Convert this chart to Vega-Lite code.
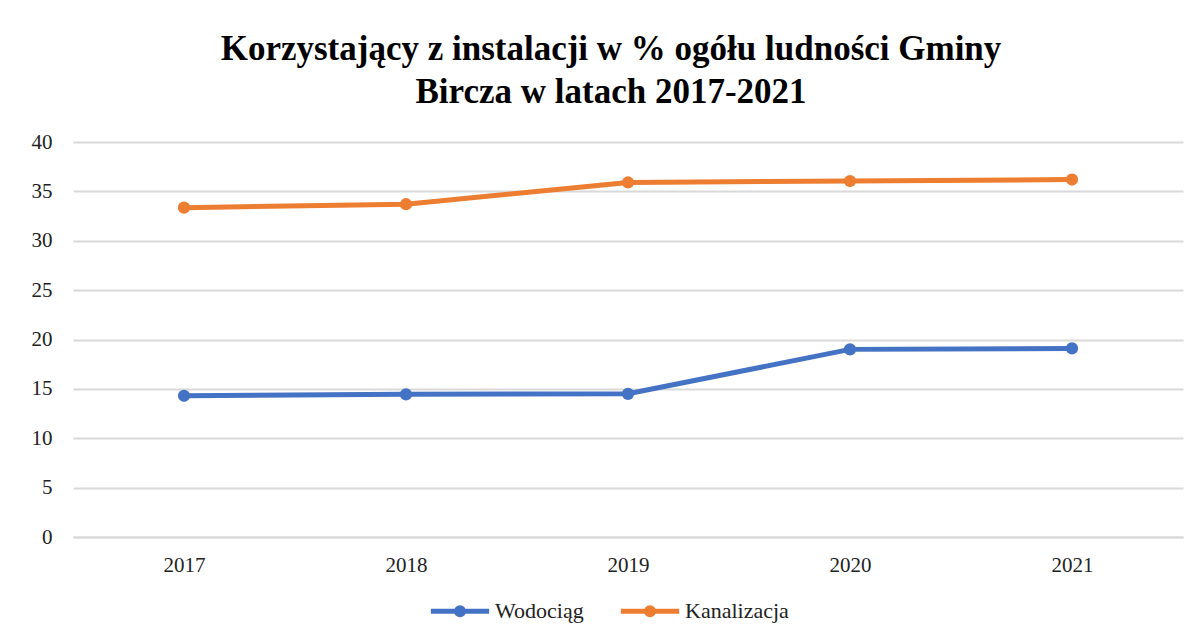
{
  "$schema": "https://vega.github.io/schema/vega-lite/v6.json",
  "width": 1110,
  "height": 395,
  "autosize": {"type": "none"},
  "padding": {"left": 73, "top": 142, "right": 19, "bottom": 104},
  "background": "white",
  "title": {
    "text": ["Korzystający z instalacji w % ogółu ludności Gminy", "Bircza w latach 2017-2021"],
    "font": "Liberation Serif",
    "fontSize": 35,
    "fontWeight": "bold",
    "color": "#000000",
    "anchor": "middle",
    "frame": "group",
    "dx": -17,
    "offset": 21,
    "lineHeight": 43
  },
  "data": {
    "values": [
      {"year": "2017", "series": "Wodociąg", "value": 14.3},
      {"year": "2018", "series": "Wodociąg", "value": 14.45},
      {"year": "2019", "series": "Wodociąg", "value": 14.5},
      {"year": "2020", "series": "Wodociąg", "value": 19.0},
      {"year": "2021", "series": "Wodociąg", "value": 19.1},
      {"year": "2017", "series": "Kanalizacja", "value": 33.35},
      {"year": "2018", "series": "Kanalizacja", "value": 33.7},
      {"year": "2019", "series": "Kanalizacja", "value": 35.9},
      {"year": "2020", "series": "Kanalizacja", "value": 36.05},
      {"year": "2021", "series": "Kanalizacja", "value": 36.2}
    ]
  },
  "mark": {"type": "line", "strokeWidth": 5, "point": {"filled": true, "size": 150}},
  "encoding": {
    "x": {
      "field": "year",
      "type": "ordinal",
      "scale": {"type": "point", "padding": 0.5},
      "axis": {
        "title": null,
        "labelAngle": 0,
        "labelFont": "Liberation Serif",
        "labelFontSize": 21,
        "labelColor": "#222222",
        "labelPadding": 17,
        "ticks": false,
        "domain": true,
        "domainColor": "#d9d9d9",
        "domainWidth": 2,
        "grid": false
      }
    },
    "y": {
      "field": "value",
      "type": "quantitative",
      "scale": {"domain": [0, 40], "nice": false},
      "axis": {
        "title": null,
        "values": [0, 5, 10, 15, 20, 25, 30, 35, 40],
        "labelFont": "Liberation Serif",
        "labelFontSize": 21,
        "labelColor": "#222222",
        "labelPadding": 21,
        "ticks": false,
        "domain": false,
        "grid": true,
        "gridColor": "#d9d9d9",
        "gridWidth": 2
      }
    },
    "color": {
      "field": "series",
      "type": "nominal",
      "scale": {"domain": ["Wodociąg", "Kanalizacja"], "range": ["#4472C4", "#ED7D31"]},
      "legend": {
        "title": null,
        "orient": "none",
        "legendX": 355,
        "legendY": 437,
        "direction": "horizontal",
        "labelFont": "Liberation Serif",
        "labelFontSize": 22,
        "labelColor": "#222222",
        "symbolType": "M-1,0H1M-0.12,0A0.12,0.12 0 1,0 0.12,0A0.12,0.12 0 1,0 -0.12,0",
        "symbolSize": 3400,
        "symbolStrokeWidth": 5,
        "columnPadding": 26,
        "labelOffset": 3,
        "offset": 0,
        "padding": 0
      }
    }
  },
  "config": {
    "font": "Liberation Serif",
    "view": {"stroke": null},
    "legend": {"labelFont": "Liberation Serif"}
  }
}
